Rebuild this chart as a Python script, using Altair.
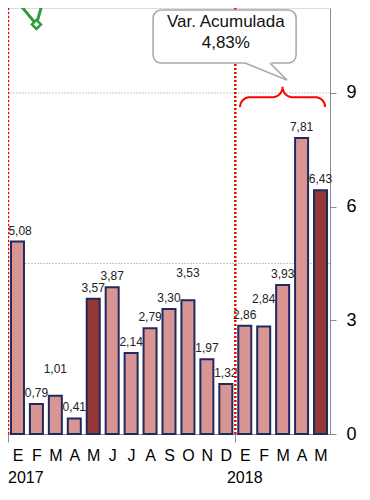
import json
import altair as alt
import numpy as np
import pandas as pd

# ---------------- data ----------------
months = ["E", "F", "M", "A", "M", "J", "J", "A", "S", "O", "N", "D",
          "E", "F", "M", "A", "M"]
years = ["2017"] * 12 + ["2018"] * 5
values = [5.08, 0.79, 1.01, 0.41, 3.57, 3.87, 2.14, 2.79, 3.30, 3.53, 1.97, 1.32,
          2.86, 2.84, 3.93, 7.81, 6.43]
# green series (mostly cut off at the top), expressed in right-axis units
line_pos = [0, 1, 2, 3]
line_vals = [11.6, 11.41, 10.81, 12.6]
y_ticks = [0, 3, 6, 9]
grid_vals = [4.5, 9]
year_breaks = [0.5, 12.5]
callout_text = ["Var. Acumulada", "4,83%"]

# ---------------- layout constants ----------------
W, H = 322, 426
X0, X1 = 0.5, 17.5
YMAX = 11.243
STEP = W / (X1 - X0)          # px per category
PXY = H / YMAX                # px per unit
FONT = "Liberation Sans"
VAL_FS, MONTH_FS = 12, 16


def text_halfwidth_units(s, fs):
    widths = {",": 0.278, ".": 0.278, "%": 0.889}
    em = sum(widths.get(c, 0.556) for c in s)
    return em * fs / 2 / STEP


# ---------------- tables ----------------
n = len(values)
bars = pd.DataFrame({
    "pos": list(range(1, n + 1)),
    "mes": months,
    "anio": years,
    "valor": values,
    "mnum": [(i % 12) + 1 for i in range(n)],
})
bars["etiqueta"] = bars["valor"].map(lambda v: f"{v:.2f}".replace(".", ","))
# label placement rules: lift a label nearly level with its left neighbour,
# and keep labels inside the plotting area
lift = [0.0]
for i in range(1, n):
    lift.append(0.42 if abs(values[i] - values[i - 1]) < 0.26 else 0.0)
bars["ylab"] = bars["valor"] + np.array(lift)
bars["xlab"] = [max(p, X0 + text_halfwidth_units(s, VAL_FS) + 0.02)
                for p, s in zip(bars["pos"], bars["etiqueta"])]

year_rows = []
for i, y in enumerate(years):
    if i == 0 or years[i - 1] != y:
        p = i + 1
        year_rows.append({"x": max(p, X0 + text_halfwidth_units(y, MONTH_FS)), "t": y})
year_df = pd.DataFrame(year_rows)
year_df["y"] = -(44.0 / PXY)          # one text line below the month letters

green = pd.DataFrame({"pos": line_pos, "v": line_vals})
grid = pd.DataFrame({"y": grid_vals})
breaks = pd.DataFrame({"x": year_breaks})

# callout (annotation placed in data space)
box = pd.DataFrame({"x": [8.16], "x2": [15.71], "y": [9.79], "y2": [11.19]})
tail_area = pd.DataFrame({"x": [13.01, 14.33, 15.23],
                          "y": [9.79, 9.525, 9.34],
                          "y2": [9.84, 9.84, 9.34]})
tail_edges = pd.DataFrame({"x": [13.01, 15.23, 15.23, 14.33],
                           "y": [9.79, 9.34, 9.34, 9.79],
                           "e": ["a", "a", "b", "b"],
                           "k": [0, 1, 0, 1]})
callout = pd.DataFrame({"x": [12.0, 12.0], "y": [10.87, 10.32], "t": callout_text})

# brace over the 2018 bars
bx0, bx1 = 12.75, 17.24
bxm = (bx0 + bx1) / 2
by_end, by_mid, by_tip = 8.63, 8.89, 9.16
rx = 0.53
t = np.linspace(0, np.pi / 2, 10)
ax1 = bx0 + rx - rx * np.cos(t)
ay1 = by_end + (by_mid - by_end) * np.sin(t)
ax2 = bxm - rx + rx * np.sin(t)
ay2 = by_tip - (by_tip - by_mid) * np.cos(t)
left_x = np.concatenate([ax1, ax2])
left_y = np.concatenate([ay1, ay2])
bxs = np.concatenate([left_x, (2 * bxm - left_x)[::-1]])
bys = np.concatenate([left_y, left_y[::-1]])
brace = pd.DataFrame({"x": bxs, "y": bys, "k": range(len(bxs))})

# ---------------- scales / axes ----------------
xs = alt.Scale(domain=[X0, X1], nice=False, zero=False, padding=0)
ys = alt.Scale(domain=[0, YMAX], nice=False, zero=True, padding=0)

tick_vals = sorted(list(range(1, n + 1)) + year_breaks)
label_expr = ("datum.value % 1 != 0 ? '' : " + json.dumps(months) +
              "[datum.value - 1]")

x_axis = alt.Axis(
    values=tick_vals, labelExpr=label_expr, title=None, grid=False,
    domainColor="#8C8C8C", domainWidth=1, tickColor="#8C8C8C", tickSize=8,
    tickOpacity={"condition": {"test": "datum.value % 1 != 0", "value": 1}, "value": 0},
    labelFontSize=MONTH_FS, labelFont=FONT, labelColor="#000000", labelPadding=5,
    labelOverlap=False, labelFlush=False, labelBound=False,
)
y_axis = alt.Axis(
    orient="right", values=y_ticks, title=None, grid=False,
    domainColor="#8C8C8C", domainWidth=1, tickColor="#8C8C8C", tickSize=6,
    labelFontSize=18, labelFont=FONT, labelColor="#000000", labelPadding=10,
    labelFlush=False,
)


def X(f):
    return alt.X(f, scale=xs, axis=x_axis)


def Y(f):
    return alt.Y(f, scale=ys, axis=y_axis)


# ---------------- layers ----------------
grid_layer = alt.Chart(grid).mark_rule(
    color="#C8C8C8", strokeDash=[2, 1], strokeWidth=1
).encode(y=Y("y:Q"))

bar_layer = alt.Chart(bars).mark_bar(
    size=13, stroke="#1F2A5E", strokeWidth=2, orient="vertical"
).encode(
    x=X("pos:Q"),
    y=Y("valor:Q"),
    color=alt.condition("datum.mnum == 5", alt.value("#953735"), alt.value("#D99594")),
)

label_layer = alt.Chart(bars).mark_text(
    baseline="bottom", dy=-4, fontSize=VAL_FS, font=FONT, color="#222222"
).encode(x=X("xlab:Q"), y=Y("ylab:Q"), text="etiqueta:N")

year_layer = alt.Chart(year_df).mark_text(
    baseline="middle", fontSize=MONTH_FS, font=FONT, color="#000000"
).encode(x=X("x:Q"), y=Y("y:Q"), text="t:N")

break_layer = alt.Chart(breaks).mark_rule(
    color="#FF0000", strokeDash=[2, 2], strokeWidth=2.5
).encode(x=X("x:Q"))

green_line = alt.Chart(green).mark_line(
    color="#2E9B3E", strokeWidth=3, clip=True
).encode(x=X("pos:Q"), y=Y("v:Q"))
green_pts = alt.Chart(green).mark_point(
    shape="diamond", filled=True, fill="white", stroke="#2E9B3E", strokeWidth=2.5,
    size=80, opacity=1, clip=True
).encode(x=X("pos:Q"), y=Y("v:Q"))

box_layer = alt.Chart(box).mark_rect(
    cornerRadius=8, fill="white", stroke="#A6A6A6", strokeWidth=1.5
).encode(x=X("x:Q"), x2="x2:Q", y=Y("y:Q"), y2="y2:Q")
tail_fill = alt.Chart(tail_area).mark_area(color="white", opacity=1).encode(
    x=X("x:Q"), y=Y("y:Q"), y2="y2:Q"
)
tail_line = alt.Chart(tail_edges).mark_line(color="#A6A6A6", strokeWidth=1.5).encode(
    x=X("x:Q"), y=Y("y:Q"), detail="e:N", order="k:Q"
)
callout_layer = alt.Chart(callout).mark_text(
    fontSize=17, font=FONT, color="#111111", align="center", baseline="middle"
).encode(x=X("x:Q"), y=Y("y:Q"), text="t:N")
brace_layer = alt.Chart(brace).mark_line(color="#FF0000", strokeWidth=2).encode(
    x=X("x:Q"), y=Y("y:Q"), order="k:Q"
)

chart = alt.layer(
    grid_layer, bar_layer, label_layer, year_layer, break_layer, green_line,
    green_pts, box_layer, tail_fill, tail_line, callout_layer, brace_layer,
).properties(
    width=W, height=H,
    padding={"left": 0, "top": 0, "right": 30, "bottom": 53},
    autosize=alt.AutoSizeParams(type="none"),
).configure_view(stroke=None).configure(font=FONT)

chart.save("out.html", embed_options={"renderer": "svg", "actions": False})
